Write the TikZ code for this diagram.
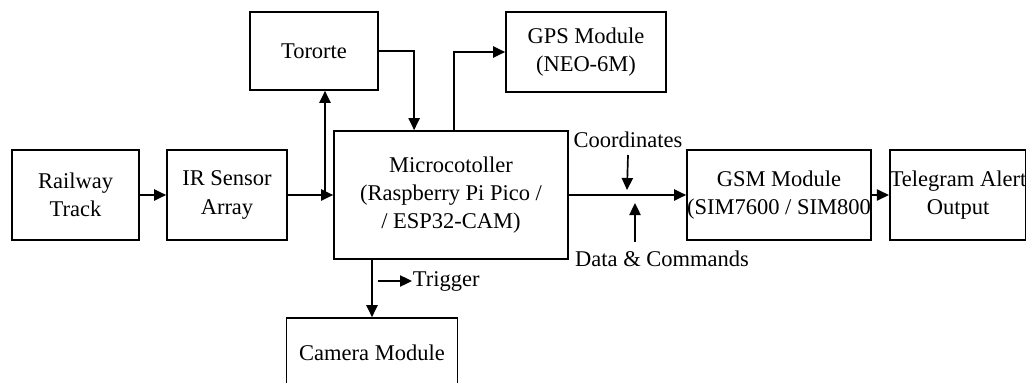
\documentclass[tikz,border=0pt]{standalone}
\usepackage{fontspec}
\setmainfont{Liberation Serif}
\usetikzlibrary{arrows.meta,calc}
\tikzset{
  block box/.style = {
    shape = rectangle,
    align = center,
    draw  = black,
    fill  = white,
    inner sep = 0pt,
    minimum width = #1,
    minimum height = 2.25cm},
  label text/.style = {inner sep = 0pt}
}

\begin{document}
\begin{tikzpicture}[x = 0.025cm, y = -0.025cm, line width = 1.2pt,
    >={Triangle[length=3mm,width=2.8mm]},
    font = \fontsize{16pt}{20pt}\selectfont]
  \clip (0,0) rectangle (1026,382);
  \fill[white] (0,0) rectangle (1026,382);
  \node[block box = 3.175cm] (railway) at (75.5,195) {Railway\\Track};
  \node[block box = 3.0cm] (irsensor) at (227,195) {IR Sensor\\Array};
  \node[block box = 3.2cm, minimum height = 1.95cm] (tororte) at (314,51) {Tororte};
  \node[block box = 5.85cm, minimum height = 3.2cm] (micro) at (451,195) {Microcotoller\\(Raspberry Pi Pico /\\/ ESP32-CAM)};
  \node[block box = 4.0cm, minimum height = 2.0cm] (gps) at (586,52) {GPS Module\\(NEO-6M)};
  \node[block box = 4.6cm] (gsm) at (779,195) {GSM Module\\(SIM7600 / SIM800};
  \node[block box = 3.4cm] (telegram) at (958,195) {Telegram Alert\\Output};
  \node[block box = 4.275cm, minimum height = 1.75cm] (camera) at (372,353) {Camera Module};
  \node[label text] (coordlbl) at (628,140) {Coordinates};
  \node[label text] (datalbl) at (662,259) {Data \& Commands};
  \node[label text, anchor = west] (triglbl) at (412,281) {Trigger};
  \coordinate (split) at (325,195);
  \coordinate (coordtip) at (627,190);
  \coordinate (datatail) at (635,242);
  \coordinate (datatip) at (635,203);
  \coordinate (trigtail) at (378,281);
  \draw[->] (railway) -- (irsensor);
  \draw[->] (irsensor) -- (micro);
  \draw[->] (split) -- (split |- tororte.south);
  \draw[->] (tororte.east) -| ($(micro.north west)+(81,0)$);
  \draw[->] ($(micro.north west)+(121,0)$) |- (gps.west);
  \draw[->] (micro) -- (gsm);
  \draw[->] (gsm) -- (telegram);
  \draw[->] (camera.north |- micro.south) -- (camera.north);
  \draw[->] (coordlbl.south |- 0,155) -- (coordtip);
  \draw[->] (datatail) -- (datatip);
  \draw[->] (trigtail) -- (triglbl.west);
\end{tikzpicture}
\end{document}
